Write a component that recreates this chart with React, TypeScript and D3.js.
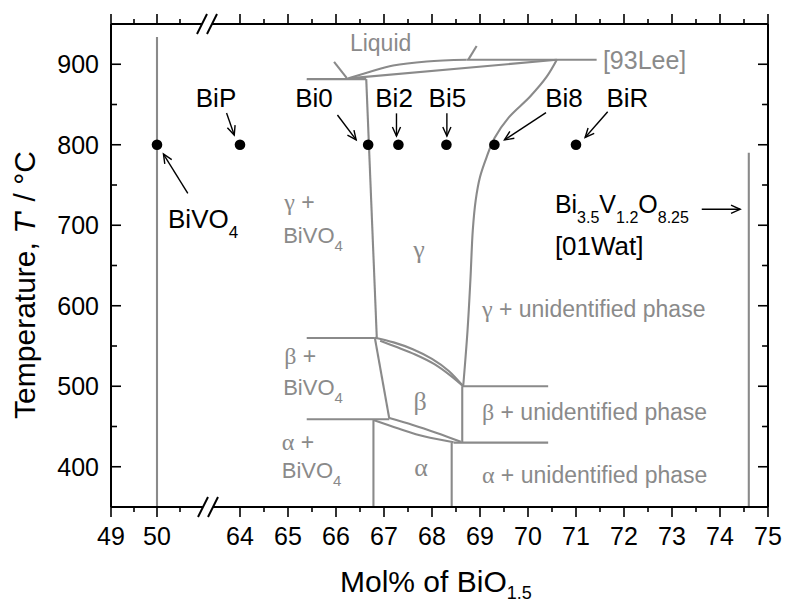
import React from "react";
import * as d3 from "d3";

// ---------- data ----------
const xMajorTicks = [49, 50, 64, 65, 66, 67, 68, 69, 70, 71, 72, 73, 74, 75];
const xMinorTicks = [49.5, 50.5, 64.5, 65.5, 66.5, 67.5, 68.5, 69.5, 70.5, 71.5, 72.5, 73.5, 74.5];
const yMajorTicks = [400, 500, 600, 700, 800, 900];
const yMinorTicks = [450, 550, 650, 750, 850];

const sampleNames = ["BiVO4", "BiP", "Bi0", "Bi2", "Bi5", "Bi8", "BiR"];
const sampleX = [50, 64, 66.67, 67.3, 68.3, 69.3, 71.0];
const sampleT = [800, 800, 800, 800, 800, 800, 800];

// phase boundaries [mol%, T]
const bivo4Line: [number, number][] = [[50, 350], [50, 934]];
const bi35Line: [number, number][] = [[74.6, 350], [74.6, 790]];
const liquidLeftTick: [number, number][] = [[65.96, 903], [66.23, 882.5]];
const liquidRightTick: [number, number][] = [[68.76, 906], [68.93, 922.6]];
const liquidus: [number, number][] = [[66.26, 882.5], [66.71, 890.7], [67.19, 898.5], [67.89, 903.5], [68.72, 905.5]];
const topHorizontal: [number, number][] = [[68.72, 905.5], [71.43, 905.5]];
const solidus: [number, number][] = [[66.26, 882.5], [70.6, 905.5]];
const leftHorizontal882: [number, number][] = [[65.39, 881.5], [66.63, 881.5]];
const gammaLeft: [number, number][] = [[66.63, 881.5], [66.85, 560]];
const gammaRight: [number, number][] = [
  [70.6, 905.5], [70.39, 884.5], [70.04, 859.6], [69.6, 834], [69.3, 808], [69.14, 785],
  [69.0, 760], [68.91, 731], [68.85, 694], [68.8, 632], [68.74, 569], [68.65, 500]];
const leftHorizontal560: [number, number][] = [[65.39, 560], [66.81, 560]];
const gbOuter: [number, number][] = [[66.81, 560.3], [67.2, 554.5], [67.6, 546], [68.0, 534], [68.35, 519], [68.65, 500]];
const gbInner: [number, number][] = [[66.92, 556.5], [67.25, 549], [67.65, 539.5], [68.05, 527.5], [68.38, 513.5], [68.65, 500]];
const betaLeft: [number, number][] = [[66.81, 560], [67.11, 460]];
const leftHorizontal459: [number, number][] = [[65.39, 459], [67.11, 459]];
const baUpper: [number, number][] = [[67.11, 460.5], [67.6, 452], [68.1, 442], [68.6, 431]];
const baLower: [number, number][] = [[66.78, 458], [67.3, 447.5], [67.85, 437.5], [68.45, 430.5]];
const betaRight: [number, number][] = [[68.63, 500], [68.63, 430]];
const rightHorizontal500: [number, number][] = [[68.63, 500], [70.42, 500]];
const rightHorizontal430: [number, number][] = [[68.45, 430], [70.42, 430]];
const alphaLeft: [number, number][] = [[66.78, 458], [66.78, 350]];
const alphaRight: [number, number][] = [[68.41, 430], [68.41, 350]];

const boundaries = [
  bivo4Line, bi35Line, liquidLeftTick, liquidRightTick, liquidus, topHorizontal, solidus,
  leftHorizontal882, gammaLeft, gammaRight, leftHorizontal560, gbOuter, gbInner, betaLeft,
  leftHorizontal459, baUpper, baLower, betaRight, rightHorizontal500, rightHorizontal430,
  alphaLeft, alphaRight,
];

// sample label positions and arrows (data coordinates)
const sampleLabelX = [null, 63.5, 65.54, 67.21, 68.32, 70.75, 72.07];
const sampleLabelT = 847;
const arrowFrom: [number, number][] = [[50.67, 739.7], [63.72, 839.4], [66.03, 837], [67.26, 839], [68.31, 839], [70.375, 840], [71.66, 841], [73.62, 719.8]];
const arrowTo: [number, number][] = [[50.14, 788.5], [63.88, 812], [66.42, 806], [67.26, 810.7], [68.31, 810.7], [69.51, 806], [71.19, 809], [74.42, 719.8]];

// ---------- layout ----------
const W = 785, H = 605;
const x = d3.scaleLinear().domain([49, 51, 63.5, 75]).range([111, 203, 216, 768]);
const y = d3.scaleLinear().domain([350, 950]).range([507, 24]);
const X0 = 111, X1 = 768, Y0 = 507, Y1 = 24;
const GRAY = "#8a8a8a";
const SANS = "'Liberation Sans', Arial, sans-serif";
const SERIF = "'Liberation Serif', 'Times New Roman', serif";

const line = d3.line<[number, number]>().x(d => x(d[0])).y(d => y(d[1])).curve(d3.curveCatmullRom.alpha(0.5));
const straight = d3.line<[number, number]>().x(d => x(d[0])).y(d => y(d[1]));

function Arrow({ from, to }: { from: [number, number]; to: [number, number] }) {
  const x1 = x(from[0]), y1 = y(from[1]), x2 = x(to[0]), y2 = y(to[1]);
  const ang = Math.atan2(y2 - y1, x2 - x1);
  const L = 10, a = 0.42;
  const p1 = [x2 - L * Math.cos(ang - a), y2 - L * Math.sin(ang - a)];
  const p2 = [x2 - L * Math.cos(ang + a), y2 - L * Math.sin(ang + a)];
  return (
    <g stroke="#000" strokeWidth={1.4} fill="none">
      <line x1={x1} y1={y1} x2={x2} y2={y2} />
      <polyline points={`${p1[0]},${p1[1]} ${x2},${y2} ${p2[0]},${p2[1]}`} />
    </g>
  );
}

function PhaseLabel({ xv, tv, greek, rest, anchor = "start" }: any) {
  return (
    <text x={x(xv)} y={y(tv)} fill={GRAY} fontFamily={SANS} fontSize={23} textAnchor={anchor}>
      <tspan fontFamily={SERIF} fontSize={24}>{greek}</tspan>
      {rest}
    </text>
  );
}

function GrayBiVO4({ xv, tv }: any) {
  return (
    <text x={x(xv)} y={y(tv)} fill={GRAY} fontFamily={SANS} fontSize={22}>
      BiVO<tspan fontSize={15} dy={8}>4</tspan>
    </text>
  );
}

export default function App() {
  const slash = (cx: number, cy: number) => (
    <line key={`s${cx}-${cy}`} x1={cx - 5} y1={cy + 10} x2={cx + 5} y2={cy - 10} stroke="#000" strokeWidth={2} />
  );
  return (
    <svg width={W} height={H} style={{ position: "absolute", left: 0, top: 0, background: "#fff" }}>
      <rect width={W} height={H} fill="#fff" />
      {/* phase boundaries */}
      <g fill="none" stroke={GRAY} strokeWidth={2.1}>
        {boundaries.map((b, i) => (
          <path key={i} d={(b.length > 2 ? line : straight)(b) || ""} />
        ))}
      </g>

      {/* frame */}
      <g stroke="#000" strokeWidth={2} fill="none">
        <line x1={X0} y1={Y0} x2={X0} y2={Y1} />
        <line x1={X1} y1={Y0} x2={X1} y2={Y1} />
        <line x1={X0} y1={Y0} x2={203} y2={Y0} />
        <line x1={213} y1={Y0} x2={X1} y2={Y0} />
        <line x1={X0} y1={Y1} x2={202} y2={Y1} />
        <line x1={212} y1={Y1} x2={X1} y2={Y1} />
      </g>
      {slash(203, Y0)}{slash(213, Y0)}{slash(202, Y1)}{slash(212, Y1)}

      {/* ticks */}
      <g stroke="#000" strokeWidth={1.6}>
        {xMajorTicks.map(t => (
          <g key={`xm${t}`}>
            <line x1={x(t)} x2={x(t)} y1={Y0} y2={Y0 + 10} />
            <line x1={x(t)} x2={x(t)} y1={Y1} y2={Y1 - 10} />
          </g>
        ))}
        {xMinorTicks.map(t => (
          <g key={`xn${t}`}>
            <line x1={x(t)} x2={x(t)} y1={Y0} y2={Y0 + 5} />
            <line x1={x(t)} x2={x(t)} y1={Y1} y2={Y1 - 5} />
          </g>
        ))}
        {yMajorTicks.map(t => (
          <g key={`ym${t}`}>
            <line x1={X0} x2={X0 + 10} y1={y(t)} y2={y(t)} />
            <line x1={X1} x2={X1 - 10} y1={y(t)} y2={y(t)} />
          </g>
        ))}
        {yMinorTicks.map(t => (
          <g key={`yn${t}`}>
            <line x1={X0} x2={X0 + 6} y1={y(t)} y2={y(t)} />
            <line x1={X1} x2={X1 - 6} y1={y(t)} y2={y(t)} />
          </g>
        ))}
      </g>
      <g fontFamily={SANS} fontSize={25} fill="#000">
        {xMajorTicks.map(t => (
          <text key={`xl${t}`} x={x(t)} y={545} textAnchor="middle">{t}</text>
        ))}
        {yMajorTicks.map(t => (
          <text key={`yl${t}`} x={99} y={y(t) + 9} textAnchor="end">{t}</text>
        ))}
      </g>

      {/* axis titles */}
      <text transform="translate(35,285) rotate(-90)" textAnchor="middle" fontFamily={SANS} fontSize={30} fill="#000">
        Temperature, <tspan fontStyle="italic">T</tspan>'  / °C
      </text>
      <text x={340} y={592} fontFamily={SANS} fontSize={30} fill="#000">
        Mol% of BiO<tspan fontSize={18} dy={7}>1.5</tspan>
      </text>

      {/* samples */}
      {sampleX.map((sx, i) => (
        <circle key={`pt${i}`} cx={x(sx)} cy={y(sampleT[i])} r={5.3} fill="#000" />
      ))}
      <g fontFamily={SANS} fontSize={26} fill="#000">
        {sampleNames.map((n, i) =>
          sampleLabelX[i] == null ? null : (
            <text key={`lb${n}`} x={x(sampleLabelX[i] as number)} y={y(sampleLabelT)} textAnchor="middle">{n}</text>
          )
        )}
      </g>
      {arrowFrom.map((f, i) => <Arrow key={`ar${i}`} from={f} to={arrowTo[i]} />)}

      {/* black annotations */}
      <text x={x(50.24)} y={y(696.6)} fontFamily={SANS} fontSize={26} fill="#000">
        BiVO<tspan fontSize={17} dy={10}>4</tspan>
      </text>
      <text x={x(70.56)} y={y(715)} fontFamily={SANS} fontSize={25} fill="#000">
        Bi<tspan fontSize={16} dy={10}>3.5</tspan><tspan dy={-10}>V</tspan><tspan fontSize={16} dy={10}>1.2</tspan><tspan dy={-10}>O</tspan><tspan fontSize={16} dy={10}>8.25</tspan>
      </text>
      <text x={x(70.56)} y={y(663)} fontFamily={SANS} fontSize={26} fill="#000">[01Wat]</text>

      {/* gray annotations */}
      <text x={x(66.29)} y={y(916)} fontFamily={SANS} fontSize={23} fill={GRAY}>Liquid</text>
      <text x={x(71.56)} y={y(894)} fontFamily={SANS} fontSize={25} fill={GRAY}>[93Lee]</text>
      <PhaseLabel xv={64.92} tv={719} greek="γ" rest=" +" />
      <GrayBiVO4 xv={64.9} tv={678} />
      <PhaseLabel xv={64.92} tv={527.7} greek="β" rest=" +" />
      <GrayBiVO4 xv={64.9} tv={489} />
      <PhaseLabel xv={64.87} tv={420.8} greek="α" rest=" +" />
      <GrayBiVO4 xv={64.87} tv={386} />
      <text x={x(67.73)} y={y(659)} fontFamily={SERIF} fontSize={26} fill={GRAY} textAnchor="middle">γ</text>
      <text x={x(67.75)} y={y(470)} fontFamily={SERIF} fontSize={26} fill={GRAY} textAnchor="middle">β</text>
      <text x={x(67.77)} y={y(388)} fontFamily={SERIF} fontSize={26} fill={GRAY} textAnchor="middle">α</text>
      <PhaseLabel xv={69.04} tv={586} greek="γ" rest=" + unidentified phase" />
      <PhaseLabel xv={69.04} tv={458} greek="β" rest=" + unidentified phase" />
      <PhaseLabel xv={69.04} tv={380} greek="α" rest=" + unidentified phase" />
    </svg>
  );
}
